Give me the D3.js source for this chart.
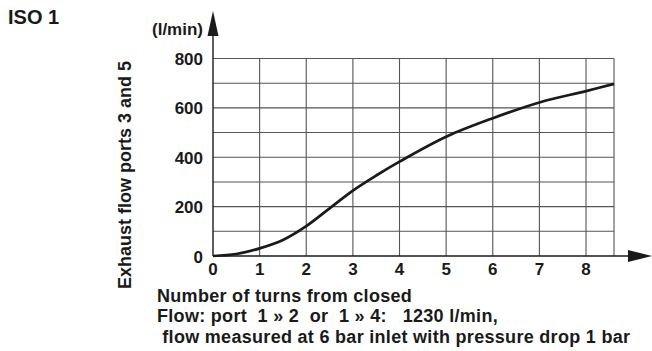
<!DOCTYPE html>
<html>
<head>
<meta charset="utf-8">
<script src="https://cdn.jsdelivr.net/npm/d3@7"></script>
<style>
  html, body { margin: 0; padding: 0; background: #fff; }
  svg text { font-family: "Liberation Sans", Arial, Helvetica, sans-serif; font-weight: bold; fill: #1a1a1a; }
</style>
</head>
<body>
<svg id="chart" width="652" height="351"></svg>
<script>
// Flow curve: exhaust flow (l/min) against number of turns from closed
const turns = [0, 0.5, 1, 1.5, 2, 2.5, 3, 3.5, 4, 5, 6, 7, 8, 8.6];
const flow  = [0, 8, 31, 65, 121, 193, 265, 326, 382, 483, 558, 622, 668, 697];

const xTicks = [0, 1, 2, 3, 4, 5, 6, 7, 8];
const yTickLabels = [0, 200, 400, 600, 800];
const yGrid = [0, 100, 200, 300, 400, 500, 600, 700, 800];

const title = "ISO 1";
const unitLabel = "(l/min)";
const yTitle = "Exhaust flow ports 3 and 5";
const footnotes = [
  "Number of turns from closed",
  "Flow: port  1 \u00bb 2  or  1 \u00bb 4:   1230 l/min,",
  " flow measured at 6 bar inlet with pressure drop 1 bar"
];

const svg = d3.select("#chart");
const x = d3.scaleLinear().domain([0, 8.6]).range([213, 614]);
const y = d3.scaleLinear().domain([0, 800]).range([256, 58.5]);

// grid
const grid = svg.append("g").attr("stroke", "#555").attr("stroke-width", 1.1).attr("fill", "none");
grid.selectAll("line.v").data(xTicks.slice(1).concat([8.6])).join("line")
  .attr("x1", d => x(d)).attr("x2", d => x(d))
  .attr("y1", y(0)).attr("y2", y(800));
grid.selectAll("line.h").data(yGrid.slice(1)).join("line")
  .attr("x1", x(0)).attr("x2", x(8.6))
  .attr("y1", d => y(d)).attr("y2", d => y(d));

// axes with arrows
const axes = svg.append("g").attr("stroke", "#1a1a1a").attr("stroke-width", 1.4);
axes.append("line").attr("x1", x(0)).attr("x2", 632).attr("y1", y(0)).attr("y2", y(0));
axes.append("line").attr("x1", x(0)).attr("x2", x(0)).attr("y1", y(0)).attr("y2", 30);
svg.append("path").attr("fill", "#1a1a1a")
  .attr("d", `M${x(0)},11 L${x(0) + 5.5},36 L${x(0) - 5.5},36 Z`);
svg.append("path").attr("fill", "#1a1a1a")
  .attr("d", `M652,${y(0)} L628,${y(0) - 6} L628,${y(0) + 6} Z`);

// tick labels
svg.append("g").selectAll("text").data(xTicks).join("text")
  .attr("x", d => x(d)).attr("y", 275)
  .attr("text-anchor", "middle").attr("font-size", 17)
  .text(d => d);
svg.append("g").selectAll("text").data(yTickLabels).join("text")
  .attr("x", 203).attr("y", d => y(d) + 6.5)
  .attr("text-anchor", "end").attr("font-size", 17)
  .text(d => d);

// curve
const line = d3.line().x((d, i) => x(turns[i])).y(d => y(d)).curve(d3.curveCatmullRom.alpha(0.5));
svg.append("path").datum(flow)
  .attr("fill", "none").attr("stroke", "#1a1a1a").attr("stroke-width", 2.7)
  .attr("d", line);

// titles
svg.append("text").attr("x", 8).attr("y", 23.5).attr("font-size", 20).text(title);
svg.append("text").attr("x", 203).attr("y", 35).attr("text-anchor", "end").attr("font-size", 17).text(unitLabel);
svg.append("text")
  .attr("transform", "translate(131,175) rotate(-90)")
  .attr("text-anchor", "middle").attr("font-size", 18)
  .text(yTitle);
svg.append("g").selectAll("text").data(footnotes).join("text")
  .attr("x", 157).attr("y", (d, i) => 301.5 + i * 20.5)
  .attr("font-size", 18).attr("letter-spacing", 0.3)
  .style("white-space", "pre")
  .text(d => d);
</script>
</body>
</html>
